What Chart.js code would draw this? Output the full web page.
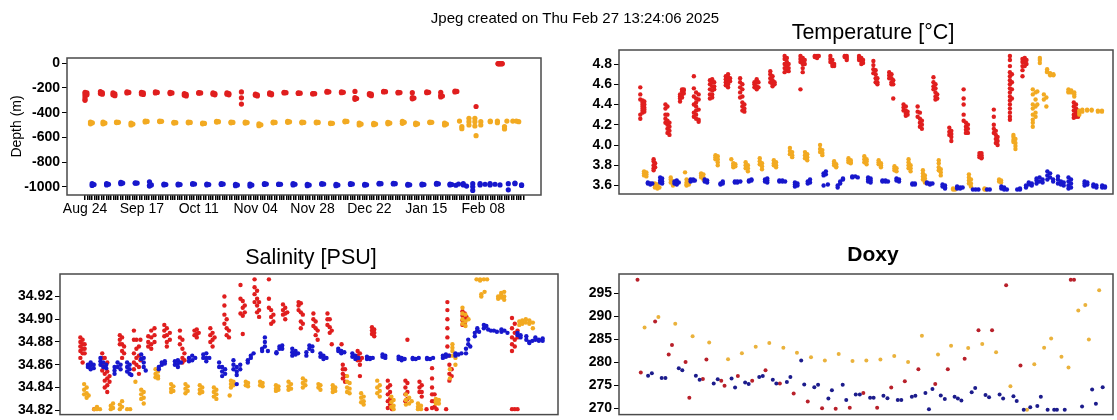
<!DOCTYPE html>
<html><head><meta charset="utf-8">
<script src="https://cdn.jsdelivr.net/npm/chart.js@4.4.1/dist/chart.umd.min.js"></script>
<style>
html,body{margin:0;padding:0;background:#fff;width:1117px;height:420px;overflow:hidden;position:relative;font-family:"Liberation Sans",Arial,sans-serif}
canvas{position:absolute}
.t{position:absolute;transform:translate(-50%,-50%);white-space:nowrap;color:#000;line-height:1}
</style></head><body>
<canvas id="cDepth" width="560" height="230" style="left:0;top:0;width:560px;height:230px"></canvas>
<canvas id="cTemp" width="557" height="210" style="left:560px;top:0;width:557px;height:210px"></canvas>
<canvas id="cSal" width="562" height="195" style="left:0;top:230px;width:562px;height:195px"></canvas>
<canvas id="cDoxy" width="555" height="195" style="left:562px;top:230px;width:555px;height:195px"></canvas>
<div class="t" style="left:575px;top:17px;font-size:15px">Jpeg created on Thu Feb 27 13:24:06 2025</div>
<div class="t" style="left:873px;top:33px;font-size:21.5px">Temperature [°C]</div>
<div class="t" style="left:311px;top:258px;font-size:21.5px">Salinity [PSU]</div>
<div class="t" style="left:873px;top:253px;font-size:21px;font-weight:bold">Doxy</div>
<script>
// ---- axis / tick data (x = days since 2024-08-24) ----
const dateTickDays = [0,24,48,72,96,120,144,168];
const dateTickLabels = ['Aug 24','Sep 17','Oct 11','Nov 04','Nov 28','Dec 22','Jan 15','Feb 08'];
const lastDay = 185;
const depthTicks = [0,-200,-400,-600,-800,-1000];
const tempTicks = [3.6,3.8,4.0,4.2,4.4,4.6,4.8];
const salTicks = [34.82,34.84,34.86,34.88,34.90,34.92];
const doxyTicks = [270,275,280,285,290,295];

// ---- Depth (m): rows are [day, value, value, ...] ----
const depthRed = [
[0,-235,-250,-270,-290,-300],[0.8,-240,-255],[6.5,-230,-245],[7.3,-238,-250],[11.8,-240,-255],[12.6,-248,-262],
[17.7,-232,-240],[18.5,-236],[23.8,-235,-248],[24.6,-240,-252],[29.7,-232,-240],[30.5,-236],[35.9,-235,-245],[36.7,-240],
[41.9,-245,-258],[42.7,-252,-265],[48,-238,-242],[48.8,-240],[54,-240,-250],[54.8,-245,-255],[59.9,-240,-250],[60.7,-245,-255],
[66,-232,-280,-330],[71.9,-250,-258],[72.7,-255,-265],[77.9,-240,-250],[78.7,-245,-255],[84,-235,-240],[84.8,-238],
[90,-240,-244],[90.8,-242],[96.1,-245,-248],[96.9,-246],[102.1,-228,-234],[102.9,-231],[108.2,-232,-238],[109,-235],
[113.9,-228,-278,-292],[114.6,-285],[120,-245,-255],[120.8,-250,-262],[126,-228,-232],[126.8,-230],[132.1,-235,-240],[132.9,-237],
[138.1,-238,-278,-288],[138.8,-282],[144.2,-232,-238],[145,-235],[150.1,-235,-258,-272],[150.8,-265],[156.1,-225,-232],[156.9,-228],
[165,-350],[174.3,-2,-4],[175.1,-3,-5],[176,-2,-4]];
const depthOrange = [
[2.3,-476,-490],[3.1,-482],[7.6,-476,-490],[8.4,-484],[13.3,-476,-480],[14.1,-478],[19.4,-484,-500],[20.2,-492],
[25.4,-468,-475],[26.2,-471],[31.5,-468,-472],[32.3,-470],[37.5,-484,-478],[38.3,-481],[43.6,-476,-482],[44.4,-479],
[49.6,-484,-490],[50.4,-487],[55.5,-470,-476],[56.3,-473],[61.6,-476,-482],[62.4,-479],[67.6,-476,-484],[68.4,-480],
[73.4,-490,-505],[74.2,-498],[79.4,-476,-482],[80.2,-479],[85.5,-470,-478],[86.3,-474],[91.5,-476,-482],[92.3,-479],
[97.6,-476,-482],[98.4,-479],[103.6,-484,-488],[104.4,-486],[109.7,-468,-474],[110.5,-471],[115.7,-484,-500],[116.5,-492],
[121.8,-486,-498],[122.6,-492],[127.8,-478,-490],[128.6,-484],[133.9,-470,-486],[134.7,-478],[139.5,-484,-496],[140.3,-490],
[145.5,-476,-480],[146.3,-478],[151.7,-484,-500],[152.5,-492],[158,-468],[159,-513,-530],[162,-446,-473,-500],
[164.5,-446,-473,-508],[165,-586],[167,-473,-500],[171,-468,-473],[174,-468,-481],[177,-513,-532],[178,-468],
[180.5,-468],[182,-468],[183,-473]];
const depthBlue = [
[3,-975,-990],[3.8,-982],[9.1,-975,-985],[9.9,-980],[15.1,-965,-975],[15.9,-970],[21.2,-968,-972],[22,-970],
[27.2,-960,-990,-995],[28,-985],[33.3,-978,-985],[34.1,-982],[39.3,-978,-985],[40.1,-982],[45.4,-975,-980],[46.2,-978],
[51.4,-978,-985],[52.2,-982],[57.5,-975,-982],[58.3,-978],[63.5,-980,-992],[64.3,-986],[69.6,-978,-995],[70.4,-986],
[75.7,-975,-982],[76.5,-978],[81.7,-978,-982],[82.5,-980],[87.8,-975,-985],[88.6,-980],[93.8,-980,-992],[94.6,-986],
[99.9,-975,-980],[100.7,-978],[105.9,-980,-992],[106.7,-986],[112,-975,-982],[112.8,-978],[118,-980,-988],[118.8,-984],
[124.1,-972,-978],[124.9,-975],[130.1,-972,-978],[130.9,-975],[136.2,-980,-988],[137,-984],[142.2,-978,-985],[143,-982],
[148.3,-972,-980],[149.1,-976],[154,-978,-985],[154.8,-982],[156.5,-988],[157.6,-978],[159.6,-985,-975],[161,-995],
[163.6,-975,-1000,-1030],[166.7,-985,-975],[168.8,-980],[170.9,-975,-985],[173,-980],[175.1,-985],[178.6,-975,-1025],
[181.4,-970,-975],[184.2,-985,-990]];

// ---- Temperature [°C] ----
const tempRed = [
[0.0,4.57,4.50,4.45,4.30,4.26],[0.9,4.44,4.42,4.40,4.38,4.36,4.34,4.32],[1.6,4.43,4.40,4.37,4.35,4.33],
[5.3,3.86,3.84,3.80,3.77,3.75],[5.9,3.82,3.78],
[10.0,4.40,4.36,4.30,4.26,4.22],[10.8,4.38,4.30,4.24,4.20,4.16,4.12],[11.6,4.22,4.18,4.14,4.10],
[15.8,4.43,4.46,4.48,4.50],[16.6,4.47,4.50,4.53,4.55],[17.3,4.51,4.54,4.55],
[21.3,4.68,4.56,4.48,4.40,4.32,4.28],[22.2,4.52,4.46,4.42,4.38,4.34,4.30,4.26],[23.2,4.50,4.45,4.35,4.25,4.23],
[27.7,4.64,4.60,4.55,4.50,4.46],[28.6,4.65,4.62,4.58,4.54,4.50,4.47],[29.4,4.62,4.58,4.55],
[34.0,4.68,4.65,4.62,4.59],[34.9,4.70,4.67,4.64,4.60,4.57],[35.7,4.66,4.63],
[39.7,4.66,4.62,4.57,4.52,4.47],[40.6,4.60,4.55,4.48,4.42,4.38,4.34],[41.4,4.40,4.36,4.33],
[45.4,4.62,4.60,4.57],[46.3,4.65,4.62,4.58,4.55],[47.0,4.62,4.57],
[51.7,4.73,4.70,4.66,4.62],[52.6,4.68,4.64,4.60,4.58],[53.4,4.62,4.60],
[57.4,4.88,4.85,4.80,4.76,4.72],[58.3,4.86,4.82,4.78,4.74],[59.0,4.80,4.76,4.73],
[63.7,4.88,4.85,4.82,4.55],[64.6,4.86,4.83,4.80,4.76,4.72],[65.4,4.84,4.80],
[69.4,4.88,4.87],[70.3,4.88,4.87,4.86],[71.0,4.88],
[75.6,4.88,4.85,4.82],[76.4,4.84,4.80,4.78],[77.1,4.80,4.78],
[81.3,4.88,4.87],[82.1,4.88,4.86,4.84],
[87.0,4.88,4.86,4.84],[87.9,4.86,4.83,4.80],[88.6,4.84,4.81],
[92.7,4.83,4.79,4.75,4.71],[93.6,4.74,4.70,4.66,4.62],[94.3,4.66,4.62,4.60],
[99.0,4.72,4.69,4.66],[99.9,4.70,4.66,4.62,4.60],[100.6,4.64,4.60,4.46],
[104.7,4.40,4.37,4.34],[105.6,4.38,4.34,4.31,4.29],[106.3,4.33,4.30],
[110.3,4.38,4.33,4.28],[111.2,4.32,4.26,4.22,4.18],[112.0,4.24,4.20,4.16],
[116.6,4.67,4.62,4.58,4.55],[117.4,4.60,4.56,4.52,4.48,4.45],[118.1,4.50,4.46],
[122.9,4.17,4.13,4.10],[123.7,4.14,4.11,4.08,4.04],
[128.6,4.55,4.46,4.40,4.30,4.24],[129.5,4.22,4.18,4.15,4.12],[130.3,4.20,4.16,4.12],
[134.9,3.92,3.90,3.88],[135.7,3.92,3.90,3.88,3.87],
[140.6,4.35,4.28,4.20,4.16,4.12],[141.4,4.14,4.10,4.06,4.02],[142.1,4.08,4.04,4.00],
[147.0,4.88,4.84,4.78,4.72,4.68,4.64,4.60,4.56,4.52,4.48,4.44,4.40,4.36,4.32,4.28,4.25],[147.8,4.70,4.62,4.55,4.46],
[152.0,4.85,4.82,4.78,4.74,4.68],[152.9,4.86,4.82,4.78],[153.6,4.84,4.80],
[172.4,4.42,4.38,4.34,4.30,4.27],[173.3,4.40,4.36,4.32,4.28],[174.1,4.34,4.30,4.28]];
const tempOrange = [
[1.5,3.74,3.72,3.70],[2.4,3.73,3.71,3.69],[5.8,3.62,3.60,3.58],[6.8,3.61,3.59,3.57],[7.6,3.58],
[12.1,3.68,3.66,3.63],[13.0,3.64,3.62,3.60],[17.8,3.73],[18.4,3.66,3.63,3.61,3.60],[19.3,3.64,3.61],
[24.2,3.72,3.70,3.68],[25.1,3.71,3.68,3.66],[29.9,3.90,3.88,3.86],[30.8,3.89,3.86,3.83,3.80],
[36.2,3.86],[37.0,3.82,3.80,3.78],[37.8,3.81,3.79],[41.9,3.83,3.80,3.77],[42.8,3.80,3.77,3.74],
[47.5,3.87,3.84,3.81],[48.4,3.82,3.79,3.76],[53.1,3.85,3.82,3.80],[54.0,3.83,3.80,3.78],
[59.5,3.97,3.94,3.91],[60.4,3.93,3.90,3.88],[65.5,3.93,3.90,3.87],[66.4,3.91,3.88,3.85],
[71.5,4.00,3.96,3.93],[72.4,3.95,3.92,3.90],[77.1,3.84,3.82,3.80],[77.9,3.81,3.79,3.78],
[82.8,3.87,3.85,3.83],[83.7,3.85,3.83,3.82],[89.1,3.89,3.86,3.83],[90.0,3.86,3.84,3.81],
[94.8,3.85,3.83,3.81],[95.7,3.82,3.80,3.78],[101.1,3.79,3.77,3.75],[101.9,3.77,3.74],
[106.7,3.86,3.83,3.80,3.77],[107.5,3.80,3.77,3.74],[112.4,3.75,3.72,3.69,3.66],[113.2,3.70,3.67,3.64,3.63],
[118.7,3.85,3.82,3.78,3.75],[119.5,3.76,3.73,3.70],[124.4,3.57,3.56],[125.2,3.56],
[130.7,3.71,3.68,3.65,3.62],[131.5,3.66,3.62,3.59],[136.9,3.57,3.56],[137.5,3.56],
[142.7,3.66,3.64],[143.5,3.65,3.63],[148.4,4.10,4.08,4.05,4.03],[149.2,4.06,4.02,3.99,3.96],
[156.1,4.55,4.50,4.40,4.36,4.30,4.25,4.22,4.18],[157.2,4.52,4.45,4.38,4.32,4.28],[157.9,4.53,4.40],
[160.5,4.50,4.45],[161.5,4.47,4.38],[158.9,4.86,4.84,4.81],[161.8,4.75,4.73,4.72],[163.0,4.71,4.70,4.69],[164.3,4.70,4.69],
[170.3,4.55,4.53,4.52],[171.4,4.54,4.52],[172.6,4.52,4.50,4.48],[174.6,4.34,4.32,4.30],[175.8,4.35,4.33],
[177.7,4.35,4.34],[179.5,4.35,4.34],[182.0,4.34,4.33],[183.6,4.34,4.33]];
const tempBlue = [
[3.0,3.62,3.63],[4.0,3.62,3.61],[4.8,3.62],[7.9,3.68,3.65,3.63],[8.7,3.67,3.64,3.62],
[13.6,3.64,3.62],[14.5,3.65,3.63,3.61],[15.3,3.63],[20.0,3.66,3.64],[21.0,3.66,3.65],[21.7,3.65],
[25.6,3.66,3.64],[26.6,3.65,3.63],[31.9,3.62,3.61],[32.8,3.64,3.62],[37.6,3.63,3.64],[38.6,3.64,3.63],[39.8,3.64],
[43.2,3.64,3.65],[44.2,3.66,3.65],[49.6,3.66,3.64],[50.5,3.67,3.65,3.63],[55.3,3.65,3.64],[56.5,3.65,3.64],[57.6,3.64],
[61.5,3.63,3.61,3.59],[62.5,3.62,3.60],[66.6,3.64,3.62],[67.5,3.66,3.63],[72.9,3.72,3.70,3.60],[73.8,3.74,3.71],[74.6,3.61],
[78.5,3.58,3.60],[79.5,3.62,3.64],[80.6,3.66,3.67],[84.3,3.69,3.68],[85.5,3.69],[86.5,3.68],
[90.6,3.68,3.66,3.64],[91.6,3.67,3.65,3.63],[96.3,3.65,3.64],[97.5,3.65,3.64],[98.5,3.64],
[101.9,3.67,3.65],[102.9,3.66,3.64],[108.2,3.62,3.61],[109.2,3.62,3.61],[114.0,3.63,3.62],[115.2,3.62,3.61],[116.2,3.62],
[120.2,3.61,3.59],[121.2,3.60,3.58,3.57],[126.0,3.59,3.57],[127.2,3.58,3.57],[128.2,3.58],
[132.3,3.56],[133.4,3.56],[134.5,3.56],[137.9,3.56],[139.0,3.56],[143.6,3.59,3.57],[144.7,3.58,3.56],[145.8,3.56],
[149.9,3.56],[151.0,3.56,3.57],[153.4,3.58,3.60],[154.5,3.61,3.63],[155.7,3.60,3.62],
[157.6,3.62,3.65,3.67],[158.8,3.64,3.68],[160.0,3.63,3.66],[161.9,3.66,3.70,3.74],[163.0,3.72,3.68],[164.2,3.66,3.64],
[166.1,3.62,3.66,3.69],[167.3,3.64,3.61],[168.4,3.60,3.63],[170.3,3.68,3.64,3.60,3.57],[171.3,3.66,3.62,3.58],
[176.7,3.64,3.62,3.60],[177.8,3.63,3.61],[180.2,3.61,3.59],[181.4,3.60,3.58],[183.7,3.60,3.58],[184.8,3.59,3.58]];

// ---- Salinity [PSU] ----
const salRed = [
[0.0,34.884,34.880,34.876,34.872,34.866],[0.9,34.882,34.878,34.874,34.870,34.862],[1.7,34.878,34.874,34.870],
[5.5,34.821],[8.7,34.870,34.866,34.860,34.855],[9.7,34.866,34.858,34.852,34.846,34.840],[10.7,34.862,34.854,34.848,34.842,34.836],[11.6,34.850,34.845],
[15.7,34.886,34.882,34.878],[16.6,34.884,34.878,34.872,34.866],[17.4,34.876,34.870],
[21.3,34.890,34.882,34.870,34.862,34.856],[22.3,34.882,34.874,34.866,34.860],[23.3,34.876,34.868,34.858,34.852],[23.9,34.882,34.864],
[27.0,34.885,34.880,34.876],[28.2,34.890,34.884,34.878,34.874],[29.5,34.892,34.886,34.880],
[33.4,34.895,34.890,34.885],[34.4,34.892,34.886,34.880,34.876],[35.6,34.888,34.882],
[39.6,34.890,34.884,34.878],[40.6,34.882,34.874,34.866,34.862],[41.4,34.870,34.864],
[45.4,34.890,34.886],[46.3,34.891,34.887,34.884],[47.1,34.888],
[51.7,34.892,34.886,34.880],[52.6,34.888,34.882,34.876],[53.4,34.884],
[57.3,34.920,34.912,34.904,34.896],[58.2,34.900,34.892,34.886],[59.1,34.890,34.884],
[63.7,34.930,34.918,34.905],[64.6,34.916,34.910,34.903,34.887],[65.4,34.912,34.906],
[69.3,34.935,34.928,34.922,34.915],[70.3,34.925,34.918,34.912,34.906],[71.1,34.915,34.908,34.902],
[75.0,34.935,34.918,34.910],[75.9,34.908,34.902,34.896],[76.8,34.904,34.898],
[80.6,34.913,34.908,34.904],[81.5,34.910,34.905,34.900],[82.3,34.906],
[86.8,34.915,34.912,34.908],[87.7,34.914,34.906,34.898,34.892],[88.5,34.904,34.896],
[92.7,34.905,34.900,34.894],[93.6,34.898,34.892,34.886],[94.4,34.890,34.882],
[98.3,34.905,34.900,34.895],[99.2,34.900,34.893,34.888],[100.0,34.890,34.878],
[103.9,34.878],[104.4,34.860,34.856,34.852,34.848],[105.3,34.856,34.850,34.845],
[110.3,34.872,34.868,34.864],[111.2,34.870,34.864,34.860,34.850],[112.0,34.866],
[116.0,34.893,34.890,34.887],[116.9,34.891,34.888,34.885],
[122.3,34.846,34.840,34.834,34.828,34.822],[123.2,34.842,34.836,34.830,34.825],[124.0,34.821],
[129.3,34.846,34.840,34.834,34.828],[130.1,34.882,34.844,34.836,34.830],
[134.9,34.845,34.840,34.836],[135.8,34.842,34.836,34.832],[137.7,34.821],
[139.9,34.857,34.848,34.840,34.834,34.828,34.822],[140.9,34.834,34.828,34.823],[141.7,34.821],
[145.5,34.821],[146.0,34.915,34.908,34.900,34.892,34.884,34.876],[146.8,34.868,34.860,34.852,34.846],[147.7,34.856,34.850],
[152.0,34.907,34.903,34.899,34.895],[152.9,34.905,34.900,34.896],[153.6,34.902],
[171.7,34.901,34.892,34.884,34.878,34.872,34.821],[172.8,34.896,34.888,34.882,34.876,34.821],[173.9,34.890,34.884,34.821]];
const salOrange = [
[1.5,34.843,34.838,34.834],[2.5,34.840,34.835,34.831],[3.3,34.833],[5.5,34.821],[6.6,34.821,34.823],[7.8,34.821],
[12.1,34.824,34.821],[13.0,34.826,34.822],[15.7,34.825,34.821],[16.6,34.828,34.823],[18.6,34.821],[19.8,34.821],[21.9,34.845],
[24.2,34.838,34.834,34.830],[25.2,34.836,34.831,34.826],[29.9,34.856,34.852,34.849],[30.9,34.854,34.850,34.848],
[36.1,34.843,34.839,34.836],[37.0,34.841,34.837],[41.8,34.843,34.839,34.835],[42.7,34.841,34.837],
[47.5,34.842,34.838,34.835],[48.5,34.840,34.836],[53.1,34.840,34.836,34.832],[54.1,34.838,34.834,34.830],
[59.4,34.833],[59.9,34.846,34.843,34.840],[60.9,34.845,34.842],[65.8,34.845,34.842],[66.7,34.844,34.841],
[71.5,34.845,34.842],[72.5,34.844,34.841],[77.8,34.842,34.839,34.837],[78.8,34.841,34.838],
[82.8,34.845,34.841,34.838],[83.8,34.843,34.839],[88.5,34.848,34.844,34.840],[89.5,34.846,34.842],
[94.7,34.843,34.840],[95.5,34.842,34.838],[100.4,34.842,34.839,34.836],[101.4,34.840,34.837],
[106.1,34.850,34.845,34.840,34.836],[107.1,34.844,34.839,34.835],[111.7,34.835,34.831,34.827],[112.7,34.832,34.828,34.825],
[118.1,34.846,34.840,34.835],[119.1,34.842,34.837,34.832],[123.7,34.832,34.827,34.823],[124.6,34.829,34.824,34.821],
[129.5,34.834,34.829,34.825],[130.8,34.831,34.826],[131.8,34.828],[134.3,34.826,34.823,34.821],[135.5,34.824,34.821],
[141.4,34.830,34.828,34.826],[142.6,34.829,34.826],[147.0,34.848,34.856],[148.0,34.878,34.875,34.872,34.868],[149.2,34.866,34.860],
[152.0,34.910,34.905,34.900,34.896],[153.2,34.904,34.898,34.894],[154.4,34.900],
[157.6,34.935],[159.0,34.935,34.934],[160.5,34.935],[161.8,34.935],[159.5,34.922,34.920],[160.8,34.924],
[166.2,34.920,34.918],[167.4,34.923,34.921,34.919],[168.6,34.924,34.920,34.917],
[174.6,34.898,34.895],[175.8,34.899,34.896],[177.2,34.900,34.897],[178.6,34.899,34.896],[180.0,34.897,34.892]];
const salBlue = [
[3.0,34.858,34.860],[4.1,34.862,34.859,34.856],[5.3,34.860,34.857],[8.0,34.863,34.866,34.860],[9.1,34.862,34.858],[10.3,34.860,34.857],
[13.6,34.858,34.855,34.852],[14.8,34.862,34.858],[16.0,34.860,34.856],[18.6,34.862,34.858,34.854],[19.6,34.860,34.856,34.852],[20.3,34.851],
[24.2,34.869,34.865],[25.2,34.866,34.862,34.858],[26.0,34.855],[31.2,34.856,34.858],[32.4,34.860,34.862],[33.6,34.863,34.861],
[37.6,34.860,34.863],[38.8,34.864,34.861,34.858],[40.0,34.862],[43.2,34.863,34.866],[44.5,34.868,34.864],[45.7,34.866],
[48.9,34.866,34.869],[50.1,34.870,34.866,34.863],[51.3,34.866],[55.2,34.862,34.858],[56.4,34.858,34.854,34.850],[57.6,34.856,34.852],
[60.9,34.864,34.860,34.856],[62.2,34.858,34.854,34.851,34.843],[63.6,34.860,34.856],[66.6,34.864,34.862],[67.8,34.868,34.866],[68.9,34.870],
[72.3,34.874,34.872],[73.4,34.884,34.880,34.876],[74.6,34.872],[78.0,34.871,34.870],[79.2,34.874,34.876],[80.3,34.877,34.874],
[84.3,34.874,34.871,34.868],[85.6,34.872,34.869],[86.6,34.870],[89.9,34.868,34.871],[91.1,34.874,34.877],[92.3,34.876,34.872],
[95.5,34.870,34.867],[96.7,34.868,34.865],[97.9,34.866],[102.6,34.874,34.872],[103.8,34.872,34.870],[105.0,34.871],
[108.2,34.870,34.867],[109.4,34.868,34.865],[110.6,34.866],[114.0,34.867,34.865],[115.2,34.866,34.865],[116.3,34.866],
[120.2,34.869,34.867],[121.3,34.868,34.866],[126.6,34.867,34.865],[127.8,34.866,34.864],[129.0,34.865],
[132.2,34.866,34.865],[133.4,34.865],[134.6,34.866],[137.9,34.866,34.865],[139.1,34.865],[140.3,34.866],
[144.2,34.866,34.868],[145.4,34.869,34.867],[146.6,34.868],[149.2,34.868,34.870],[150.4,34.869],[151.6,34.870],
[153.4,34.870,34.874],[154.3,34.878,34.882],[155.1,34.876],[156.9,34.885,34.888],[157.9,34.890,34.892],[158.6,34.889],
[160.5,34.892,34.895],[161.5,34.894],[162.2,34.891],[163.3,34.890],[164.5,34.890],[165.7,34.889],
[167.5,34.889,34.891],[168.7,34.890],[169.9,34.888],[173.9,34.886,34.888],[175.1,34.884,34.886],
[177.4,34.885,34.882],[178.6,34.880,34.879],[179.8,34.881],[181.0,34.884,34.882],[182.4,34.882,34.881],[183.9,34.883,34.881]];

// ---- Doxy ----
const doxyRed = [
[-1.1,298.0],[0.2,277.8],[5.9,288.9],[11.3,281.7],[12.6,283.8],[18.0,280.1],[19.5,272.3],[24.9,276.4],[26.3,280.6],
[32.2,276.0],[33.5,274.9],[38.8,277.0],[44.5,276.0],[49.8,278.3],[55.5,275.4],[61.0,273.2],[66.6,271.5],[72.3,270.0],
[77.7,269.9],[83.3,270.1],[88.7,273.3],[94.2,270.1],[99.8,274.5],[105.2,275.9],[110.6,278.5],[117.3,275.3],[122.3,278.5],
[129.0,280.8],[134.5,287.0],[139.9,287.0],[145.5,296.8],[151.2,279.3],[171.2,298.0],[172.5,298.0]];
const doxyOrange = [
[1.7,287.6],[7.2,289.9],[13.9,288.4],[20.8,285.7],[27.4,284.3],[34.9,280.7],[40.4,282.0],[45.9,283.4],[51.3,284.2],
[56.9,283.2],[62.3,282.1],[67.9,281.1],[73.4,280.4],[78.9,281.8],[84.4,280.3],[89.9,280.4],[95.5,280.6],[101.0,281.4],
[106.5,280.1],[112.0,285.8],[118.4,281.7],[123.6,283.6],[130.4,283.1],[136.0,284.0],[141.5,282.2],[147.2,274.8],
[153.8,269.7],[156.7,279.6],[160.6,283.2],[163.4,285.2],[167.5,281.2],[170.3,278.9],[174.2,291.3],[177.0,292.5],
[178.4,285.0],[182.5,295.7]];
const doxyBlue = [
[3.1,277.1],[4.6,277.6],[8.5,276.6],[10.0,276.6],[15.3,278.7],[16.7,278.3],[22.1,277.1],[23.6,276.2],[29.2,275.4],
[30.8,276.3],[36.3,276.5],[37.7,274.5],[41.7,275.6],[43.1,275.3],[47.3,276.8],[48.7,277.0],[52.7,276.2],[54.1,275.4],
[58.3,275.7],[59.7,276.8],[64.0,280.4],[65.2,275.2],[69.2,274.6],[70.7,275.1],[74.8,272.1],[76.2,273.9],[80.5,275.1],
[81.9,271.8],[85.7,273.0],[87.3,273.0],[91.4,272.3],[92.8,272.3],[96.7,272.7],[98.3,272.2],[102.4,271.8],[103.8,271.8],
[108.0,272.5],[109.4,272.7],[113.4,273.3],[114.8,269.8],[116.2,274.2],[119.5,272.8],[121.1,272.0],[125.0,272.5],
[126.3,272.1],[127.7,271.7],[131.8,273.5],[133.2,274.4],[137.3,272.9],[138.7,272.4],[142.9,273.0],[144.3,272.1],
[148.4,272.6],[149.7,271.6],[152.5,269.7],[155.1,270.2],[157.9,270.5],[159.3,272.5],[162.0,269.7],[164.6,269.7],
[165.7,269.7],[168.8,269.7],[175.7,270.4],[179.7,274.1],[181.2,271.0],[183.9,274.6]];

// ---- drawing ----
Chart.defaults.font.family = "'Liberation Sans', Arial, sans-serif";
const toPts = rows => rows.flatMap(r => r.slice(1).map(v => ({x: r[0], y: v})));
const C = {red:'#e01e1e', orange:'#f2aa22', blue:'#1717cc'};
const D = {red:'#b8202a', orange:'#eab23c', blue:'#1c1c8c'};
const ds = (rows, color, r) => ({data: toPts(rows), pointRadius: r, pointBackgroundColor: color, pointBorderWidth: 0, pointBorderColor: color, showLine: false});

const boxPlugin = {id:'box', afterDatasetsDraw(c){const a=c.chartArea, x=c.ctx; x.save(); x.strokeStyle='#4a4a4a'; x.lineWidth=1.5; x.strokeRect(a.left,a.top,a.right-a.left,a.bottom-a.top); x.restore();}};

function yAxis(min, max, ticks, dec, width, title){
  const cfg = {min, max,
    afterBuildTicks: s => { s.ticks = ticks.map(v => ({value: v})); },
    afterFit: s => { s.width = width; },
    ticks: {color:'#000', font:{size:14, weight:'bold'}, padding:2, callback: v => dec == null ? String(v) : Number(v).toFixed(dec)},
    grid: {drawOnChartArea:false, drawTicks:true, tickLength:5, color:'#000', lineWidth:1},
    border: {display:false}};
  if (title) cfg.title = {display:true, text:title, color:'#000', font:{size:14}, padding:{top:9, bottom:0}};
  return cfg;
}
const hiddenX = (min, max) => ({type:'linear', display:false, min, max});

function make(id, datasets, x, y, padding){
  return new Chart(document.getElementById(id), {type:'scatter', data:{datasets},
    options:{responsive:false, maintainAspectRatio:false, animation:false, devicePixelRatio:1, events:[],
      layout:{padding}, plugins:{legend:{display:false}, tooltip:{enabled:false}},
      scales:{x, y}},
    plugins:[boxPlugin]});
}

const rugDays = Array.from({length: lastDay + 1}, (_, i) => i);
const depthX = {type:'linear', min:-7.6, max:192.4,
  afterBuildTicks: s => { s.ticks = rugDays.map(v => ({value: v})); },
  afterFit: s => { s.height = 35; },
  ticks: {autoSkip:false, maxRotation:0, minRotation:0, color:'#000', font:{size:14}, padding:1,
    callback: v => { const i = dateTickDays.indexOf(v); return i < 0 ? '' : dateTickLabels[i]; }},
  grid: {drawOnChartArea:false, drawTicks:true, tickLength:5, color:'#000', lineWidth:1.5},
  border: {display:false}};

make('cDepth', [ds(depthBlue, C.blue, 2.6), ds(depthOrange, C.orange, 2.6), ds(depthRed, C.red, 2.6)],
  depthX, yAxis(-1067, 43, depthTicks, null, 67, 'Depth (m)'), {top:58, right:19, left:0, bottom:0});
make('cTemp', [ds(tempBlue, C.blue, 2.2), ds(tempOrange, C.orange, 2.2), ds(tempRed, C.red, 2.2)],
  hiddenX(-8.47, 188), yAxis(3.516, 4.939, tempTicks, 1, 59), {top:50, right:1, left:0, bottom:16});
make('cSal', [ds(salBlue, C.blue, 2.2), ds(salOrange, C.orange, 2.2), ds(salRed, C.red, 2.2)],
  hiddenX(-8.1, 190), yAxis(34.8162, 34.9397, salTicks, 2, 60), {top:44, right:1, left:0, bottom:6.5});
make('cDoxy', [ds(doxyBlue, D.blue, 2), ds(doxyOrange, D.orange, 2), ds(doxyRed, D.red, 2)],
  hiddenX(-8.47, 188), yAxis(268.62, 299.24, doxyTicks, null, 57), {top:44, right:1, left:0, bottom:6.5});
</script>
</body></html>
